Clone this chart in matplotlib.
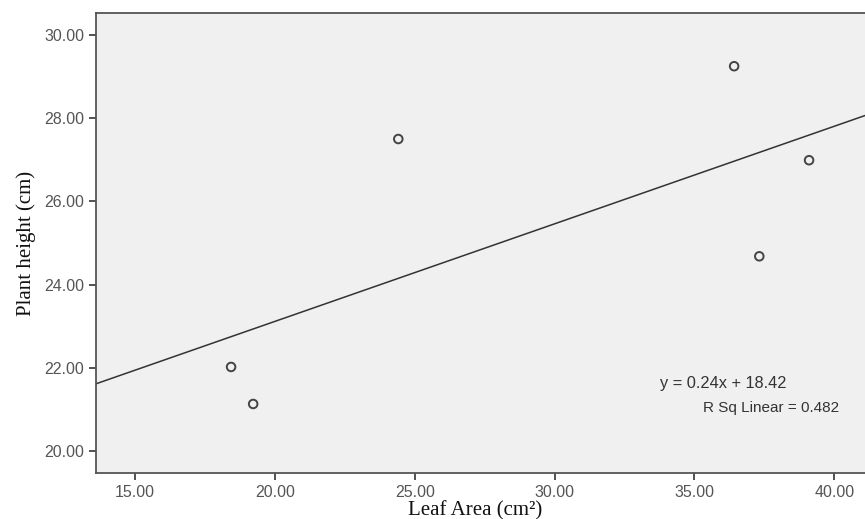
import matplotlib
matplotlib.use("Agg")
import matplotlib.pyplot as plt
import numpy as np

# leaf area (cm^2) vs plant height (cm)
leaf_area = [18.43, 19.22, 24.41, 36.42, 39.10, 37.32]
plant_height = [22.02, 21.13, 27.50, 29.25, 26.99, 24.68]

# annotation text as printed on the chart
eq_text = "y = 0.24x + 18.42"
r_sq = 0.482

xticks = [15, 20, 25, 30, 35, 40]
yticks = [20, 22, 24, 26, 28, 30]

fig = plt.figure(figsize=(8.65, 5.19), dpi=100)
ax = fig.add_axes([0.111, 0.0886, 0.889, 0.8864])
ax.set_facecolor("#f0f0f0")

x0, x1 = 13.6, 41.1
ax.set_xlim(x0, x1)
ax.set_ylim(19.47, 30.53)

# least squares line through the points
slope, intercept = np.polyfit(leaf_area, plant_height, 1)
xs = np.array([x0, x1])
ax.plot(xs, slope * xs + intercept, color="#333333", linewidth=1.1)
ax.scatter(leaf_area, plant_height, s=38, facecolors="none",
           edgecolors="#444444", linewidths=1.4, zorder=3)

ax.set_xticks(xticks)
ax.set_yticks(yticks)
ax.set_xticklabels(["%.2f" % v for v in xticks])
ax.set_yticklabels(["%.2f" % v for v in yticks])
ax.tick_params(direction="out", length=5, width=1.2, color="#333333",
               labelsize=11.5, labelcolor="#555555")
for lab in ax.get_xticklabels() + ax.get_yticklabels():
    lab.set_family("Liberation Sans")

for side in ["left", "bottom", "top"]:
    ax.spines[side].set_color("#555555")
    ax.spines[side].set_linewidth(1.3)
ax.spines["right"].set_visible(False)

fig.text(475 / 865, 1 - 511 / 519, "Leaf Area (cm²)", family="Liberation Serif",
         fontsize=15, color="#111111", ha="center", va="center")
ax.set_ylabel("Plant height (cm)", family="Liberation Serif", fontsize=15,
              color="#111111", labelpad=6)

ax.text(33.78, 21.62, eq_text, family="Liberation Sans", fontsize=11.8,
        color="#333333", va="center")
ax.text(35.31, 21.03, "R Sq Linear = %.3f" % r_sq, family="Liberation Sans",
        fontsize=11, color="#333333", va="center")

fig.savefig("out.png", dpi=100)
